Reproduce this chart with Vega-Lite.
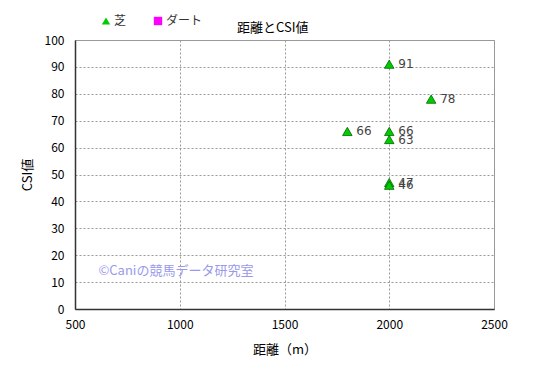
{
  "$schema": "https://vega.github.io/schema/vega-lite/v6.json",
  "width": 419,
  "height": 269,
  "autosize": {"type": "none"},
  "padding": {"left": 75, "top": 40, "right": 51, "bottom": 68},
  "background": "white",
  "title": {"text": "距離とCSI値", "font": "Noto Sans CJK JP", "fontSize": 13, "fontWeight": "normal", "color": "#000", "anchor": "start", "dx": 216, "offset": -20},
  "config": {
    "view": {"stroke": "#999999", "strokeWidth": 1},
    "font": "Noto Sans CJK JP",
    "axis": {"labelFont": "Noto Sans CJK JP", "titleFont": "Noto Sans CJK JP", "labelFontSize": 12, "titleFontSize": 13, "titleFontWeight": "normal", "labelColor": "#000", "titleColor": "#000", "grid": true, "gridColor": "#999999", "gridDash": [2, 2], "domainColor": "#333", "domainWidth": 1.5, "ticks": false, "labelFlush": false}
  },
  "datasets": {
    "pts": [
      {"距離": 2000, "CSI": 91, "種別": "芝"},
      {"距離": 2200, "CSI": 78, "種別": "芝"},
      {"距離": 1800, "CSI": 66, "種別": "芝"},
      {"距離": 2000, "CSI": 66, "種別": "芝"},
      {"距離": 2000, "CSI": 63, "種別": "芝"},
      {"距離": 2000, "CSI": 47, "種別": "芝"},
      {"距離": 2000, "CSI": 46, "種別": "芝"}
    ],
    "mark": [
      {"距離": 612, "CSI": 14, "t": "©Caniの競馬データ研究室"}
    ]
  },
  "encoding": {
    "x": {"field": "距離", "type": "quantitative", "scale": {"domain": [500, 2500], "nice": false}, "axis": {"values": [500, 1000, 1500, 2000, 2500], "format": "d", "title": "距離（m）", "titlePadding": 13, "labelPadding": 10}},
    "y": {"field": "CSI", "type": "quantitative", "scale": {"domain": [0, 100], "nice": false}, "axis": {"tickCount": 11, "values": [0, 10, 20, 30, 40, 50, 60, 70, 80, 90, 100], "labelOverlap": false, "format": "d", "title": "CSI値", "titlePadding": 10, "labelPadding": 11}}
  },
  "layer": [
    {
      "data": {"name": "pts"},
      "mark": {"type": "point", "filled": true, "stroke": "#006600", "strokeWidth": 0.8, "size": 90, "opacity": 1},
      "encoding": {
        "color": {"field": "種別", "type": "nominal", "scale": {"domain": ["芝", "ダート"], "range": ["#00cc00", "#ff00ff"]},
          "legend": {"orient": "none", "legendX": 25, "legendY": -25, "direction": "horizontal", "title": null, "labelFont": "Noto Sans CJK JP", "labelFontSize": 12, "labelColor": "#333", "symbolSize": 70, "columnPadding": 25, "labelOffset": 2, "symbolStrokeWidth": 0}},
        "shape": {"field": "種別", "type": "nominal", "scale": {"domain": ["芝", "ダート"], "range": ["triangle-up", "square"]}, "legend": null}
      }
    },
    {
      "data": {"name": "pts"},
      "mark": {"type": "text", "align": "left", "dx": 9, "fontSize": 12, "color": "#444", "font": "DejaVu Sans"},
      "encoding": {
        "text": {"field": "CSI", "type": "quantitative"}
      }
    },
    {
      "data": {"name": "mark"},
      "mark": {"type": "text", "align": "left", "fontSize": 13, "color": "#9999ee", "font": "Noto Sans CJK JP"},
      "encoding": {
        "text": {"field": "t"}
      }
    }
  ]
}
